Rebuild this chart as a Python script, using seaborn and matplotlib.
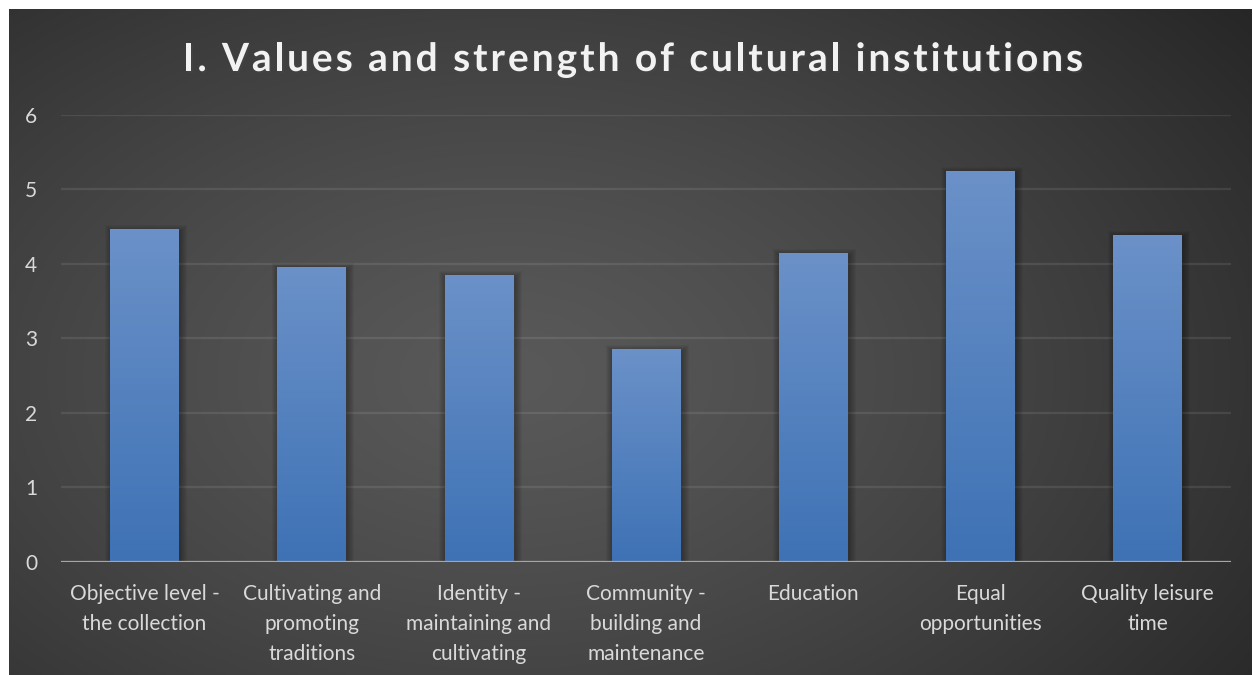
import numpy as np
import pandas as pd
import matplotlib
matplotlib.use("Agg")
import matplotlib.pyplot as plt
import matplotlib.patheffects as pe
from matplotlib.patches import Rectangle
from matplotlib.font_manager import FontProperties
import seaborn as sns

# ---- data ----
categories = [
    "Objective level -\nthe collection",
    "Cultivating and\npromoting\ntraditions",
    "Identity -\nmaintaining and\ncultivating",
    "Community -\nbuilding and\nmaintenance",
    "Education",
    "Equal\nopportunities",
    "Quality leisure\ntime",
]
scores = [4.45, 3.94, 3.84, 2.84, 4.13, 5.24, 4.37]
yticks = [0, 1, 2, 3, 4, 5, 6]
title = "I. Values and strength of cultural institutions"

W, H, DPI = 1253, 675, 100

sns.set_theme(style="dark")
plt.rcParams["font.family"] = ["Lato", "DejaVu Sans"]

fig = plt.figure(figsize=(W / DPI, H / DPI), dpi=DPI, facecolor="white")

# ---- dark panel with a soft radial highlight ----
bg = fig.add_axes([9 / W, 0, (W - 10) / W, (H - 9) / H], zorder=0)
bg.axis("off")
ny, nx = 333, 620
yy, xx = np.mgrid[0:ny, 0:nx]
cx, cy = 0.40 * nx, 0.55 * ny
r = np.sqrt(((xx - cx) / (0.80 * nx)) ** 2 + ((yy - cy) / (0.95 * ny)) ** 2)
r = np.clip(r / 0.95, 0, 1)
v = (89 - (89 - 38) * r ** 1.3) / 255.0
img = np.dstack([v, v, v])
bg.imshow(img, aspect="auto", extent=[0, 1, 0, 1], interpolation="bicubic")
bg.set_xlim(0, 1)
bg.set_ylim(0, 1)

# ---- plot area ----
ax = fig.add_axes([61 / W, 113.5 / H, 1170 / W, (561.5 - 115) / H], zorder=1)
ax.patch.set_alpha(0)

df = pd.DataFrame({"category": categories, "score": scores})
sns.barplot(data=df, x="category", y="score", ax=ax, width=0.41,
            color="#4a7ebf", saturation=1, zorder=3)

ax.set_ylim(0, 6)
ax.set_xlim(-0.5, len(categories) - 0.5)

# per-pixel sizes in data units for the shadow
px_x = (len(categories)) / 1170.0
px_y = 6 / (561.5 - 115)

top_col = np.array([0x6b, 0x91, 0xc8]) / 255.0
bot_col = np.array([0x3e, 0x72, 0xb5]) / 255.0
grad = np.linspace(0, 1, 256)[:, None]
grad_img = top_col[None, None, :] * (1 - grad[:, :, None]) + bot_col[None, None, :] * grad[:, :, None]

for bar in list(ax.patches):
    x0 = bar.get_x()
    w = bar.get_width()
    h = bar.get_height()
    # soft shadow
    for k in range(1, 8):
        ax.add_patch(Rectangle((x0 - k * px_x + 1.5 * px_x, -k * px_y),
                               w + 2 * k * px_x, h + 2 * k * px_y - 2 * px_y,
                               facecolor="black", edgecolor="none",
                               alpha=0.045, zorder=2))
    bar.set_facecolor("none")
    bar.set_edgecolor("none")
    ax.imshow(grad_img, extent=[x0, x0 + w, 0, h], aspect="auto",
              interpolation="bilinear", zorder=3)

ax.set_ylim(0, 6)
ax.set_xlim(-0.5, len(categories) - 0.5)

# grid and baseline
ax.set_yticks(yticks)
ax.yaxis.grid(True, color="#ffffff", alpha=0.09, lw=1.6, zorder=1)
ax.xaxis.grid(False)
ax.axhline(0, color="#a6a6a6", lw=1.6, zorder=4)
for s in ax.spines.values():
    s.set_visible(False)

ax.set_xlabel("")
ax.set_ylabel("")
ax.tick_params(axis="y", length=0, pad=17, labelsize=15, labelcolor="#d9d9d9")
ax.tick_params(axis="x", length=0, pad=16, labelsize=15, labelcolor="#d9d9d9")
ax.set_xticks(range(len(categories)))
ax.set_xticklabels(categories, linespacing=1.62)

# ---- letter-spaced title ----
renderer = fig.canvas.get_renderer()
prop = FontProperties(family="Lato", weight="bold", size=28)


def text_w(s):
    return renderer.get_text_width_height_descent(s, prop, ismath=False)[0]


base = text_w("xx")
adv = [text_w("x" + c + "x") - base for c in title]
target = 900.0
spacing = (target - sum(adv[:-1]) - text_w(title[-1])) / (len(title) - 1)
xpos = 183.0
ybase = (H - 71) / H
for c, a in zip(title, adv):
    if c != " ":
        fig.text(xpos / W, ybase, c, fontproperties=prop, color="#f2f2f2",
                 ha="left", va="baseline", zorder=5,
                 path_effects=[pe.SimplePatchShadow(offset=(1.2, -1.2), alpha=0.45),
                               pe.Normal()])
    xpos += a + spacing

fig.savefig("out.png", dpi=DPI, facecolor="white")
